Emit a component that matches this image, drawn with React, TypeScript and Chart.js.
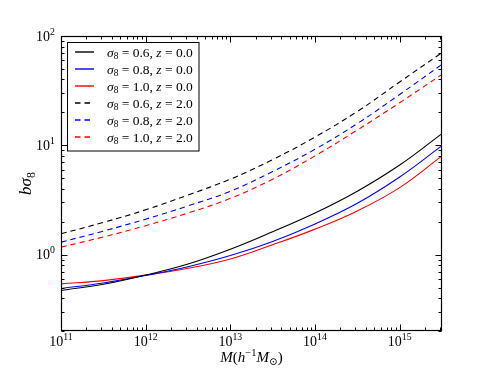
import React, { useEffect, useRef } from 'react';
import { Chart, registerables } from 'chart.js';

Chart.register(...registerables);

// Halo mass (h^-1 Msun), sampled every half decade
const masses = [1e11, 3.162e11, 1e12, 3.162e12, 1e13, 3.162e13, 1e14, 3.162e14, 1e15, 3.162e15];
// Series labels
const sigma8Values = ['0.6', '0.8', '1.0', '0.6', '0.8', '1.0'];
const redshiftValues = ['0.0', '0.0', '0.0', '2.0', '2.0', '2.0'];
// b * sigma8 values
const bS06z0 = [0.47, 0.535, 0.65, 0.82, 1.12, 1.62, 2.4, 3.8, 6.6, 12.8];
const bS08z0 = [0.49, 0.55, 0.645, 0.775, 0.98, 1.32, 1.91, 2.95, 5.13, 9.93];
const bS10z0 = [0.54, 0.578, 0.65, 0.75, 0.91, 1.23, 1.71, 2.51, 4.1, 8.0];
const bS06z2 = [1.55, 1.97, 2.57, 3.51, 4.9, 7.4, 11.9, 20.4, 38.0, 70.5];
const bS08z2 = [1.3, 1.64, 2.11, 2.79, 3.8, 5.75, 9.2, 15.8, 29.2, 55];
const bS10z2 = [1.17, 1.45, 1.84, 2.4, 3.27, 4.9, 8.0, 13.8, 24.5, 44.5];
const seriesColors = ['#000000', '#0000ff', '#ff0000', '#000000', '#0000ff', '#ff0000'];
const seriesDashed = [false, false, false, true, true, true];
// Tick labels (powers of ten)
const xTickExponents = ['11', '12', '13', '14', '15'];
const yTickExponents = ['0', '1', '2'];

const FONT = '"Liberation Serif", "DejaVu Serif", serif';

type Seg = { t: string; i?: boolean; sub?: boolean; sup?: boolean };

function segFont(s: Seg, size: number) {
  const fs = s.sub || s.sup ? size * 0.7 : size;
  return `${s.i ? 'italic ' : ''}${fs}px ${FONT}`;
}
function richWidth(ctx: CanvasRenderingContext2D, segs: Seg[], size: number) {
  let w = 0;
  for (const s of segs) {
    ctx.font = segFont(s, size);
    w += ctx.measureText(s.t).width;
  }
  return w;
}
function drawRich(ctx: CanvasRenderingContext2D, segs: Seg[], x: number, base: number, size: number) {
  let cx = x;
  for (const s of segs) {
    ctx.font = segFont(s, size);
    const dy = s.sub ? size * 0.22 : s.sup ? -size * 0.42 : 0;
    ctx.fillText(s.t, cx, base + dy);
    cx += ctx.measureText(s.t).width;
  }
}

const decor = {
  id: 'decor',
  afterDatasetsDraw(chart: any) {
    const { ctx, chartArea: a, scales } = chart;
    const xs = scales.x;
    const ys = scales.y;
    ctx.save();
    ctx.fillStyle = '#000';
    ctx.strokeStyle = '#000';
    ctx.textBaseline = 'alphabetic';
    ctx.textAlign = 'left';

    const L = Math.round(a.left) + 0.5;
    const R = Math.round(a.right) - 0.5;
    const T = Math.round(a.top) + 0.5;
    const B = Math.round(a.bottom) - 0.5;

    // ticks (inward, all four sides)
    ctx.lineWidth = 1;
    ctx.beginPath();
    for (let e = 11; e <= 15; e++) {
      for (let m = 1; m <= 9; m++) {
        const v = m * Math.pow(10, e);
        if (v < xs.min * 0.999 || v > xs.max * 1.001) continue;
        const px = Math.round(xs.getPixelForValue(v)) + 0.5;
        const len = m === 1 ? 6 : 3;
        ctx.moveTo(px, B); ctx.lineTo(px, B - len);
        ctx.moveTo(px, T); ctx.lineTo(px, T + len);
      }
    }
    for (let e = -1; e <= 2; e++) {
      for (let m = 1; m <= 9; m++) {
        const v = m * Math.pow(10, e);
        if (v < ys.min * 0.999 || v > ys.max * 1.001) continue;
        const py = Math.round(ys.getPixelForValue(v)) + 0.5;
        const len = m === 1 ? 6 : 3;
        ctx.moveTo(L, py); ctx.lineTo(L + len, py);
        ctx.moveTo(R, py); ctx.lineTo(R - len, py);
      }
    }
    ctx.stroke();

    // frame
    ctx.lineWidth = 1.2;
    ctx.strokeRect(L, T, R - L, B - T);

    // tick labels
    const tsize = 14;
    for (const ex of xTickExponents) {
      const px = xs.getPixelForValue(Math.pow(10, Number(ex)));
      const segs: Seg[] = [{ t: '10' }, { t: ex, sup: true }];
      const w = richWidth(ctx, segs, tsize);
      drawRich(ctx, segs, px - w / 2, a.bottom + 15, tsize);
    }
    for (const ex of yTickExponents) {
      const py = ys.getPixelForValue(Math.pow(10, Number(ex)));
      const segs: Seg[] = [{ t: '10' }, { t: ex, sup: true }];
      const w = richWidth(ctx, segs, tsize);
      drawRich(ctx, segs, a.left - 6 - w, py + 4.5, tsize);
    }

    // axis titles
    const xt: Seg[] = [{ t: 'M', i: true }, { t: '(' }, { t: 'h', i: true }, { t: '\u22121', sup: true }, { t: 'M', i: true }, { t: '\u2299', sub: true }, { t: ')' }];
    const xw = richWidth(ctx, xt, 15);
    drawRich(ctx, xt, (a.left + a.right) / 2 - xw / 2, 362, 15);

    const yt: Seg[] = [{ t: 'b', i: true }, { t: '\u03c3', i: true }, { t: '8', sub: true }];
    ctx.save();
    ctx.translate(31, (a.top + a.bottom) / 2);
    ctx.rotate(-Math.PI / 2);
    const yw = richWidth(ctx, yt, 17);
    drawRich(ctx, yt, -yw / 2, 0, 17);
    ctx.restore();

    // legend
    const lx = 67.5, ly = 42.5, lw = 131.5, lh = 108.5;
    ctx.fillStyle = '#fff';
    ctx.fillRect(lx, ly, lw, lh);
    ctx.lineWidth = 1;
    ctx.strokeStyle = '#000';
    ctx.strokeRect(lx, ly, lw, lh);
    chart.data.datasets.forEach((ds: any, i: number) => {
      const cy = 52 + i * 17;
      ctx.save();
      ctx.strokeStyle = ds.borderColor;
      ctx.lineWidth = 1.4;
      ctx.setLineDash(ds.borderDash || []);
      ctx.beginPath();
      ctx.moveTo(75, cy);
      ctx.lineTo(94, cy);
      ctx.stroke();
      ctx.restore();
      ctx.fillStyle = '#000';
      const segs: Seg[] = [
        { t: '\u03c3', i: true }, { t: '8', sub: true }, { t: ' = ' + ds.sigma8 + ', ' },
        { t: 'z', i: true }, { t: ' = ' + ds.redshift },
      ];
      drawRich(ctx, segs, 107, cy + 4.5, 13.5);
    });

    ctx.restore();
  },
};

export default function App() {
  const ref = useRef<HTMLCanvasElement | null>(null);
  useEffect(() => {
    if (!ref.current) return;
    const series = [bS06z0, bS08z0, bS10z0, bS06z2, bS08z2, bS10z2];
    const datasets = series.map((vals, i) => ({
      label: `σ8 = ${sigma8Values[i]}, z = ${redshiftValues[i]}`,
      sigma8: sigma8Values[i],
      redshift: redshiftValues[i],
      data: masses.map((m, j) => ({ x: m, y: vals[j] })),
      borderColor: seriesColors[i],
      borderWidth: 1.1,
      borderDash: seriesDashed[i] ? [5.5, 4] : [],
      pointRadius: 0,
      fill: false,
      tension: 0.4,
    }));
    const chart = new Chart(ref.current, {
      type: 'line',
      data: { datasets: datasets as any },
      options: {
        animation: false,
        responsive: false,
        devicePixelRatio: 1,
        layout: { padding: { left: 61, right: 49, top: 36, bottom: 37 } },
        plugins: { legend: { display: false }, tooltip: { enabled: false } },
        scales: {
          x: {
            type: 'logarithmic',
            min: 1e11,
            max: 3.162e15,
            grid: { display: false, drawTicks: false },
            border: { display: false },
            ticks: { display: false },
            afterFit: (s: any) => { s.height = 0; },
          },
          y: {
            type: 'logarithmic',
            min: 0.2,
            max: 100,
            grid: { display: false, drawTicks: false },
            border: { display: false },
            ticks: { display: false },
            afterFit: (s: any) => { s.width = 0; },
          },
        },
      },
      plugins: [decor],
    });
    return () => chart.destroy();
  }, []);
  return (
    <div style={{ position: 'absolute', left: 0, top: 0, width: 491, height: 368, background: '#fff' }}>
      <canvas ref={ref} width={491} height={368} style={{ display: 'block', width: 491, height: 368 }} />
    </div>
  );
}
